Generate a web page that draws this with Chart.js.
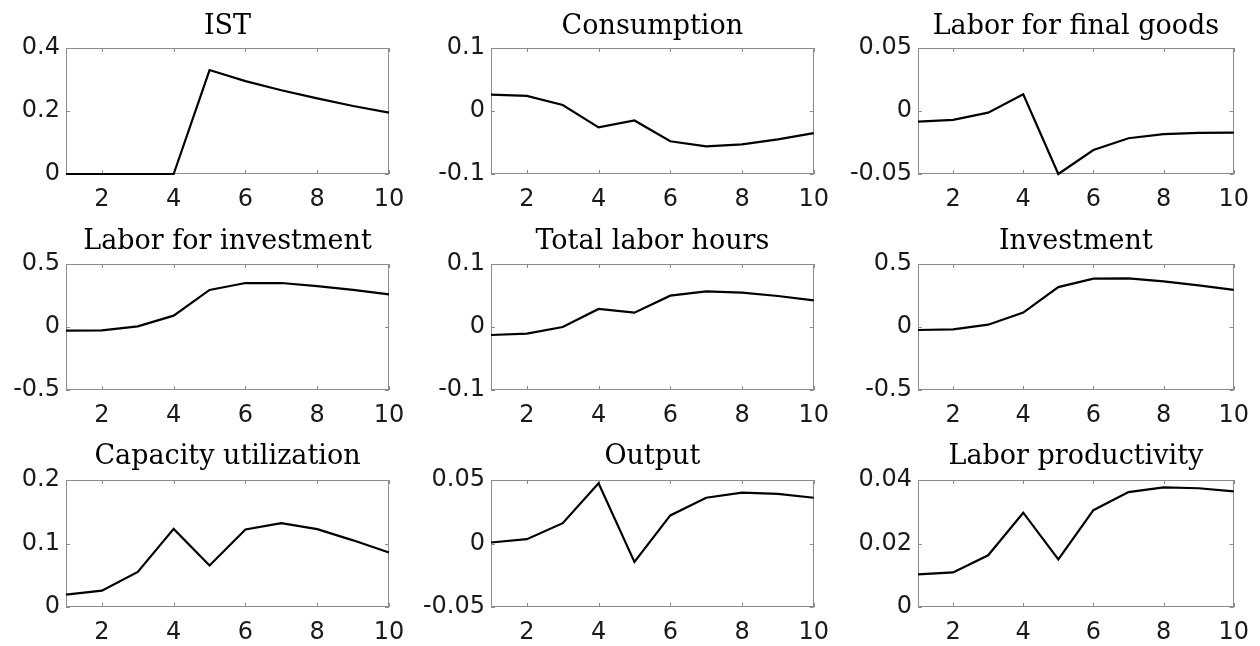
<!DOCTYPE html>
<html>
<head>
<meta charset="utf-8">
<script src="https://cdn.jsdelivr.net/npm/chart.js@4.4.1/dist/chart.umd.min.js"></script>
<style>
html, body { margin: 0; padding: 0; background: #fff; }
#wrap { position: relative; width: 1260px; height: 646px; }
#wrap canvas { position: absolute; }
</style>
</head>
<body>
<div id="wrap"></div>
<script>
// periods and tick labels
const periods = [1, 2, 3, 4, 5, 6, 7, 8, 9, 10];
const xTicks = [2, 4, 6, 8, 10];

const titles = [
    "IST", "Consumption", "Labor for final goods",
    "Labor for investment", "Total labor hours", "Investment",
    "Capacity utilization", "Output", "Labor productivity"
];

// impulse responses
const ist          = [0, 0, 0, 0, 0.330, 0.295, 0.266, 0.240, 0.216, 0.195];
const consumption  = [0.026, 0.024, 0.0095, -0.026, -0.015, -0.048, -0.056, -0.053, -0.045, -0.035];
const laborFinal   = [-0.0084, -0.0071, -0.0013, 0.0132, -0.050, -0.031, -0.0216, -0.0184, -0.0174, -0.0171];
const laborInv     = [-0.029, -0.026, 0.005, 0.090, 0.294, 0.349, 0.349, 0.325, 0.294, 0.259];
const totalHours   = [-0.0127, -0.0106, 0.0, 0.0286, 0.0228, 0.0497, 0.0566, 0.0545, 0.0492, 0.0423];
const investment   = [-0.024, -0.0185, 0.0185, 0.114, 0.317, 0.384, 0.386, 0.362, 0.331, 0.294];
const capacityUtil = [0.0195, 0.0258, 0.0553, 0.123, 0.0653, 0.122, 0.132, 0.1226, 0.105, 0.0858];
const output       = [0.0008, 0.0034, 0.016, 0.0474, -0.0145, 0.0221, 0.036, 0.040, 0.039, 0.036];
const laborProd    = [0.0103, 0.0109, 0.0163, 0.0297, 0.015, 0.0305, 0.0362, 0.0377, 0.0374, 0.0364];

const series = [ist, consumption, laborFinal, laborInv, totalHours, investment, capacityUtil, output, laborProd];

const yTickValues = [
    [0, 0.2, 0.4], [-0.1, 0, 0.1], [-0.05, 0, 0.05],
    [-0.5, 0, 0.5], [-0.1, 0, 0.1], [-0.5, 0, 0.5],
    [0, 0.1, 0.2], [-0.05, 0, 0.05], [0, 0.02, 0.04]
];
const yTickLabels = [
    ["0", "0.2", "0.4"], ["-0.1", "0", "0.1"], ["-0.05", "0", "0.05"],
    ["-0.5", "0", "0.5"], ["-0.1", "0", "0.1"], ["-0.5", "0", "0.5"],
    ["0", "0.1", "0.2"], ["-0.05", "0", "0.05"], ["0", "0.02", "0.04"]
];

// grid geometry
const colLeft = [0, 420, 840];
const axisWidth = [66, 71, 78];
const padRight = [31, 24, 18];
const rowTop = [0, 215, 430];
const rowHeight = [215, 215, 216];
const plotTop = [48, 49, 50];
const plotBottom = [174, 175, 177];

const tickFont = { family: "DejaVu Sans, sans-serif", size: 24 };
const titleFont = { family: "DejaVu Serif, serif", size: 27, weight: "normal" };

// MATLAB style box with inward ticks, drawn under the line
const boxPlugin = {
    id: "box",
    beforeDatasetsDraw(chart) {
        const ctx = chart.ctx;
        const a = chart.chartArea;
        const sx = chart.scales.x;
        const sy = chart.scales.y;
        const len = 4;
        ctx.save();
        ctx.strokeStyle = "#8c8c8c";
        ctx.lineWidth = 1;
        ctx.strokeRect(Math.round(a.left) + 0.5, Math.round(a.top) + 0.5,
            Math.round(a.right - a.left) - 1, Math.round(a.bottom - a.top) - 1);
        ctx.beginPath();
        sx.ticks.forEach(t => {
            const px = Math.round(sx.getPixelForValue(t.value)) + 0.5;
            ctx.moveTo(px, a.bottom); ctx.lineTo(px, a.bottom - len);
            ctx.moveTo(px, a.top); ctx.lineTo(px, a.top + len);
        });
        sy.ticks.forEach(t => {
            const py = Math.round(sy.getPixelForValue(t.value)) + 0.5;
            ctx.moveTo(a.left, py); ctx.lineTo(a.left + len, py);
            ctx.moveTo(a.right, py); ctx.lineTo(a.right - len, py);
        });
        ctx.stroke();
        ctx.restore();
    }
};

const wrap = document.getElementById("wrap");

series.forEach((vals, k) => {
    const r = Math.floor(k / 3);
    const c = k % 3;
    const canvas = document.createElement("canvas");
    canvas.width = 420;
    canvas.height = rowHeight[r];
    canvas.style.left = colLeft[c] + "px";
    canvas.style.top = rowTop[r] + "px";
    wrap.appendChild(canvas);

    const yv = yTickValues[k];
    const yl = yTickLabels[k];
    const xh = rowHeight[r] - plotBottom[r];

    new Chart(canvas.getContext("2d"), {
        type: "line",
        data: {
            datasets: [{
                data: periods.map((p, i) => ({ x: p, y: vals[i] })),
                borderColor: "#000",
                borderWidth: 2.2,
                pointRadius: 0,
                tension: 0,
                fill: false,
                clip: 3
            }]
        },
        options: {
            responsive: false,
            animation: false,
            events: [],
            layout: { padding: { left: 0, right: padRight[c], top: 0, bottom: 0 } },
            plugins: {
                legend: { display: false },
                tooltip: { enabled: false },
                title: {
                    display: true,
                    text: titles[k],
                    fullSize: false,
                    color: "#000",
                    font: titleFont,
                    padding: { top: 11, bottom: plotTop[r] - 11 - 32.4 }
                }
            },
            scales: {
                x: {
                    type: "linear",
                    min: 1,
                    max: 10,
                    grid: { display: false, drawTicks: false },
                    border: { display: false },
                    afterBuildTicks: s => { s.ticks = xTicks.map(v => ({ value: v })); },
                    afterFit: s => { s.height = xh; },
                    ticks: { padding: 11, color: "#1a1a1a", font: tickFont, maxRotation: 0, autoSkip: false }
                },
                y: {
                    min: yv[0],
                    max: yv[2],
                    grid: { display: false, drawTicks: false },
                    border: { display: false },
                    afterBuildTicks: s => { s.ticks = yv.map(v => ({ value: v })); },
                    afterFit: s => { s.width = axisWidth[c]; },
                    ticks: { padding: 6, color: "#1a1a1a", font: tickFont, callback: (v, i) => yl[i] }
                }
            }
        },
        plugins: [boxPlugin]
    });
});
</script>
</body>
</html>
